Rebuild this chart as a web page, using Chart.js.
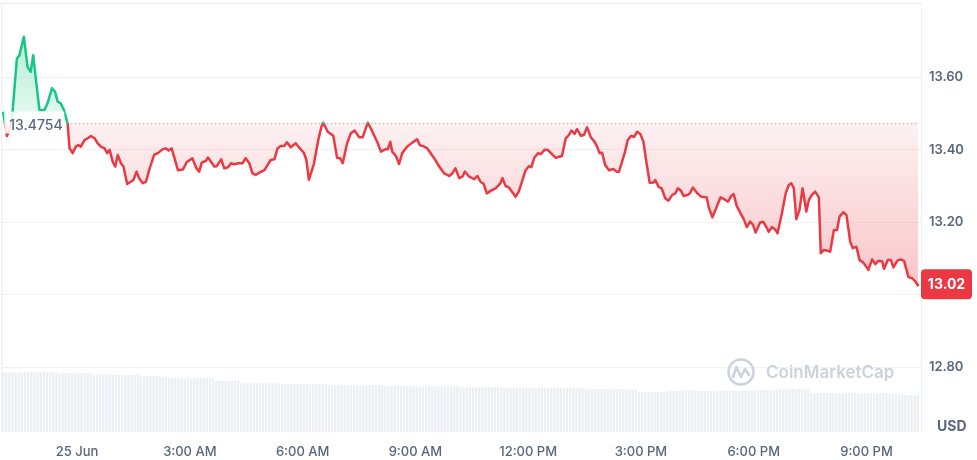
<!DOCTYPE html>
<html><head><meta charset="utf-8">
<script src="https://cdn.jsdelivr.net/npm/chart.js@4.4.1/dist/chart.umd.min.js"></script>
<style>html,body{margin:0;padding:0;background:#fff;}#wrap{width:977px;height:460px;position:relative;}</style>
</head><body><div id="wrap"><canvas id="c" width="977" height="460"></canvas></div>
<script>
// ---- DATA ----
// minutes from 00:00, 25 Jun
const TIMES = [
-118,-112,-107,-103,-96,-92,-85,-79,-74,-70,
-65,-60,-52,-47,-40,-35,-31,-26,-21,-15,
-12,-7,-2,2,6,12,17,22,28,33,
38,44,48,52,57,61,65,70,74,80,
86,90,95,99,105,110,115,123,129,137,
142,146,151,161,169,175,184,190,195,199,
206,209,219,223,230,235,241,246,251,257,
264,269,275,280,285,291,299,304,309,315,
320,325,331,335,341,349,354,362,366,370,
378,385,390,393,400,409,415,420,424,431,
437,443,450,456,464,469,480,485,493,496,
500,503,509,514,519,527,535,543,547,554,
559,570,578,586,594,599,604,610,615,619,
626,634,639,644,649,654,660,668,675,679,
684,689,700,705,711,716,721,725,730,736,
740,746,751,756,764,769,774,780,785,789,
794,798,804,809,814,820,826,830,834,838,
843,849,856,861,865,874,879,884,889,894,
899,904,909,914,920,923,928,933,939,944,
950,955,959,964,968,975,978,983,990,996,
1005,1008,1014,1020,1027,1035,1039,1044,1048,1053,
1059,1064,1069,1074,1079,1083,1090,1095,1100,1104,
1109,1115,1118,1125,1131,1136,1140,1144,1148,1153,
1158,1164,1168,1173,1178,1184,1187,1192,1198,1202,
1208,1213,1217,1223,1228,1234,1238,1244,1249,1255,
1263,1269,1274,1279,1285,1288,1294,1299,1303,1309,
1314,1320,1327,1333,1338,1343
];
const PRICES = [
13.505,13.438,13.460,13.505,13.652,13.661,13.712,13.629,13.615,13.661,
13.583,13.510,13.510,13.529,13.570,13.560,13.533,13.528,13.510,13.473,
13.404,13.391,13.409,13.413,13.409,13.427,13.432,13.438,13.432,13.418,
13.409,13.404,13.391,13.400,13.367,13.354,13.386,13.363,13.354,13.306,
13.312,13.317,13.340,13.322,13.308,13.312,13.344,13.386,13.391,13.402,
13.404,13.398,13.404,13.344,13.346,13.366,13.377,13.351,13.340,13.365,
13.370,13.379,13.354,13.355,13.374,13.349,13.352,13.363,13.360,13.363,
13.363,13.377,13.363,13.335,13.331,13.337,13.344,13.358,13.372,13.374,
13.404,13.411,13.411,13.421,13.407,13.418,13.407,13.392,13.372,13.317,
13.361,13.427,13.464,13.475,13.450,13.439,13.378,13.377,13.363,13.418,
13.446,13.453,13.435,13.435,13.475,13.459,13.418,13.395,13.402,13.402,
13.422,13.395,13.383,13.361,13.391,13.409,13.420,13.429,13.413,13.409,
13.404,13.377,13.354,13.335,13.328,13.335,13.349,13.322,13.326,13.340,
13.326,13.319,13.328,13.312,13.306,13.280,13.287,13.294,13.306,13.322,
13.300,13.297,13.271,13.285,13.317,13.344,13.355,13.352,13.379,13.391,
13.388,13.400,13.400,13.392,13.378,13.381,13.383,13.432,13.441,13.453,
13.444,13.457,13.439,13.441,13.462,13.435,13.422,13.409,13.391,13.392,
13.358,13.344,13.347,13.340,13.340,13.391,13.427,13.438,13.436,13.450,
13.444,13.422,13.363,13.309,13.310,13.317,13.298,13.294,13.266,13.260,
13.276,13.280,13.294,13.287,13.273,13.276,13.280,13.296,13.280,13.271,
13.269,13.243,13.214,13.239,13.269,13.262,13.257,13.273,13.278,13.245,
13.225,13.209,13.187,13.202,13.193,13.172,13.199,13.202,13.188,13.174,
13.187,13.179,13.170,13.225,13.280,13.303,13.308,13.294,13.209,13.234,
13.294,13.230,13.262,13.276,13.285,13.269,13.115,13.124,13.122,13.119,
13.179,13.179,13.216,13.228,13.220,13.147,13.129,13.133,13.096,13.089,
13.069,13.098,13.085,13.094,13.092,13.072,13.096,13.096,13.076,13.094,
13.098,13.094,13.049,13.046,13.037,13.024
];
const BASE_PRICE = 13.4754;
// volume bars (M USD), one every 5 minutes from VOL_START
const VOL_START = -118, VOL_STEP = 5;
const VOLUMES = [
118,118,119,118,118,119,118,
119,119,120,119,119,119,120,119,119,119,119,
117,117,118,117,117,117,116,117,117,117,117,
114,115,114,114,114,115,114,114,114,113,114,114,114,114,114,
111,111,111,112,111,111,111,110,111,
107,107,108,107,107,107,107,106,107,107,107,107,108,107,107,
102,102,102,101,102,102,102,102,
97,97,97,98,97,97,97,97,96,97,97,97,97,
95,95,95,96,95,95,95,95,95,94,95,95,95,95,95,
93,93,93,93,94,93,93,93,93,93,92,93,93,93,93,93,93,93,
91,91,91,91,92,91,91,91,91,91,91,90,91,91,91,91,91,91,92,91,91,91,91,91,
89,89,89,89,89,88,89,89,89,89,89,89,89,
88,88,88,88,89,88,88,88,88,88,88,87,88,88,88,88,88,88,88,88,89,88,88,88,88,88,88,
85,85,85,85,85,86,85,85,85,85,85,85,85,84,85,85,85,
80,80,80,80,79,80,80,80,80,80,
82,82,82,82,82,82,83,82,82,82,82,82,82,82,82,81,82,82,82,82,82,82,82,83,82,82,83,83,83,83,83,84,84,84,84,
85,85,85,85,86,85,85,85,85,85,
77,77,77,77,77,77,78,77,77,77,77,77,77,77,77,76,77,77,77,77,77,77,77,77,77,76,76,76,76,
74,73,73,73,73,73
];
const X_TICKS = [0,180,360,540,720,900,1080,1260];
const X_LABELS = ['25 Jun','3:00 AM','6:00 AM','9:00 AM','12:00 PM','3:00 PM','6:00 PM','9:00 PM'];
const Y_TICKS = [12.8,13.0,13.2,13.4,13.6];
const CURRENCY = 'USD';
const WATERMARK = 'CoinMarketCap';

// ---- STYLE ----
const FONT = "Inter, 'Noto Sans', sans-serif";
const GREEN = '#16c784', RED = '#ea3943', TXT = '#58667e', GRID = '#eff2f5';

const priceData = TIMES.map((t, i) => ({x: t, y: PRICES[i]}));
const volData = VOLUMES.map((v, i) => ({x: VOL_START + i * VOL_STEP, y: v}));

function rr(ctx, x, y, w, h, r) {
  ctx.beginPath();
  ctx.moveTo(x + r, y); ctx.lineTo(x + w - r, y); ctx.quadraticCurveTo(x + w, y, x + w, y + r);
  ctx.lineTo(x + w, y + h - r); ctx.quadraticCurveTo(x + w, y + h, x + w - r, y + h);
  ctx.lineTo(x + r, y + h); ctx.quadraticCurveTo(x, y + h, x, y + h - r);
  ctx.lineTo(x, y + r); ctx.quadraticCurveTo(x, y, x + r, y); ctx.closePath();
}

const decor = {
  id: 'decor',
  beforeDatasetsDraw(chart) {
    const {ctx, chartArea: a} = chart;
    ctx.save();
    ctx.strokeStyle = '#e9ecf0'; ctx.lineWidth = 1;
    ctx.beginPath();
    ctx.moveTo(0, a.top + 0.5); ctx.lineTo(a.right, a.top + 0.5);
    ctx.moveTo(a.left + 0.5, a.top); ctx.lineTo(a.left + 0.5, a.bottom);
    ctx.stroke();
    ctx.restore();
  },
  afterDatasetsDraw(chart) {
    const {ctx, chartArea: a, scales: {x, y}} = chart;
    const by = y.getPixelForValue(BASE_PRICE);
    ctx.save();
    // dotted reference line
    ctx.setLineDash([1, 3]); ctx.strokeStyle = '#8f98a8'; ctx.lineWidth = 1;
    ctx.beginPath();
    ctx.moveTo(a.left + 66, Math.round(by) + 0.5);
    ctx.lineTo(x.getPixelForValue(TIMES[TIMES.length - 1]), Math.round(by) + 0.5);
    ctx.stroke();
    ctx.setLineDash([]);
    // base label
    ctx.fillStyle = 'rgba(255,255,255,0.85)';
    ctx.fillRect(a.left + 3, by - 11, 60, 22);
    ctx.fillStyle = TXT; ctx.font = `500 14px ${FONT}`;
    ctx.textBaseline = 'middle'; ctx.textAlign = 'left';
    ctx.fillText(BASE_PRICE.toFixed(4), a.left + 8, by + 3);
    ctx.restore();
  },
  afterDraw(chart) {
    const {ctx, chartArea: a, scales: {y}} = chart;
    ctx.save();
    // current price badge
    const last = PRICES[PRICES.length - 1];
    const py = y.getPixelForValue(last);
    ctx.fillStyle = RED;
    rr(ctx, a.right, py - 17, 51, 30, 4); ctx.fill();
    ctx.fillStyle = '#fff'; ctx.font = `700 14px ${FONT}`;
    ctx.textAlign = 'center'; ctx.textBaseline = 'middle';
    ctx.fillText(last.toFixed(2), a.right + 25.5, py - 1.5);
    // currency
    ctx.fillStyle = TXT; ctx.font = `700 14px ${FONT}`; ctx.textAlign = 'left';
    ctx.fillText(CURRENCY, a.right + 16, a.bottom - 5);
    // watermark
    const wx = a.right - 180, wy = a.bottom - 60;
    ctx.strokeStyle = '#ccd2dc'; ctx.lineWidth = 2.6; ctx.lineCap = 'round'; ctx.lineJoin = 'round';
    ctx.beginPath(); ctx.arc(wx, wy, 12.5, 0, Math.PI * 2); ctx.stroke();
    ctx.beginPath();
    ctx.moveTo(wx - 8, wy + 5); ctx.lineTo(wx - 4.5, wy - 5); ctx.lineTo(wx, wy + 5);
    ctx.lineTo(wx + 4, wy - 3); ctx.lineTo(wx + 8, wy + 3);
    ctx.stroke();
    ctx.fillStyle = '#ccd2dc'; ctx.font = `600 17px ${FONT}`;
    ctx.textAlign = 'left'; ctx.textBaseline = 'middle';
    ctx.fillText(WATERMARK, wx + 25, wy + 1);
    ctx.restore();
  }
};

const chart = new Chart(document.getElementById('c').getContext('2d'), {
  type: 'line',
  data: {
    datasets: [
      {type: 'line', data: priceData, xAxisID: 'x', yAxisID: 'y', borderColor: RED, borderWidth: 2.5,
       pointRadius: 0, pointHoverRadius: 0, tension: 0, borderJoinStyle: 'round', order: 0,
       fill: {target: {value: BASE_PRICE}, above: 'rgba(22,199,132,0.2)', below: 'rgba(234,57,67,0.12)'}},
      {type: 'bar', data: volData, xAxisID: 'x', yAxisID: 'yv', backgroundColor: '#ebeef2',
       barThickness: 1.6, order: 1}
    ]
  },
  options: {
    responsive: false, animation: false,
    layout: {padding: {top: 3, left: 0, right: 0, bottom: 0}},
    plugins: {legend: {display: false}, tooltip: {enabled: false}},
    scales: {
      x: {
        type: 'linear', min: -121, max: 1347, offset: false,
        grid: {display: false, drawTicks: false, offset: false}, border: {display: false},
        afterBuildTicks: s => { s.ticks = X_TICKS.map(v => ({value: v})); },
        ticks: {callback: v => X_LABELS[X_TICKS.indexOf(v)], color: TXT,
                font: {family: FONT, size: 13, weight: '500'}, padding: 12, maxRotation: 0, autoSkip: false},
        afterFit: s => { s.height = 28; s.paddingLeft = 0; s.paddingRight = 0; }
      },
      y: {
        position: 'right', min: 12.622, max: 13.805,
        afterBuildTicks: s => { s.ticks = Y_TICKS.map(v => ({value: v})); },
        grid: {color: GRID, drawTicks: false}, border: {display: true, color: GRID},
        ticks: {callback: v => v.toFixed(2), color: TXT, font: {family: FONT, size: 13, weight: '600'}, padding: 8},
        afterFit: s => { s.width = 56; s.paddingTop = 0; s.paddingBottom = 0; }
      },
      yv: {display: false, min: 0, max: 858}
    }
  },
  plugins: [decor]
});

(function applyGradients() {
  const {ctx, chartArea: a, scales: {y}} = chart;
  const by = y.getPixelForValue(BASE_PRICE);
  const f = Math.min(1, Math.max(0, (by - a.top) / (a.bottom - a.top)));
  const stroke = ctx.createLinearGradient(0, a.top, 0, a.bottom);
  stroke.addColorStop(0, GREEN); stroke.addColorStop(f, GREEN);
  stroke.addColorStop(f, RED); stroke.addColorStop(1, RED);
  const gUp = ctx.createLinearGradient(0, y.getPixelForValue(13.72), 0, by);
  gUp.addColorStop(0, 'rgba(22,199,132,0.32)'); gUp.addColorStop(1, 'rgba(22,199,132,0.10)');
  const gDn = ctx.createLinearGradient(0, by, 0, y.getPixelForValue(13.0));
  gDn.addColorStop(0, 'rgba(234,57,67,0.07)'); gDn.addColorStop(1, 'rgba(234,57,67,0.30)');
  const ds = chart.data.datasets[0];
  ds.borderColor = stroke;
  ds.fill = {target: {value: BASE_PRICE}, above: gUp, below: gDn};
  chart.update('none');
})();
</script>
</body></html>
